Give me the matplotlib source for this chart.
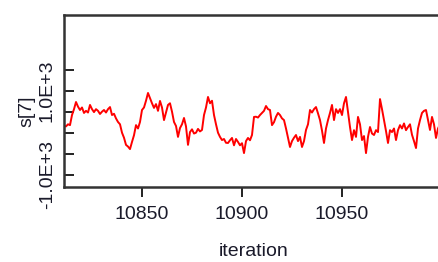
import matplotlib
matplotlib.use("Agg")
import matplotlib.pyplot as plt

iter_start = 10811
values = [
    160, 150, 200, 180, 420, 560, 730, 620, 540, 600,
    470, 520, 480, 660, 560, 490, 560, 520, 445, 500,
    540, 480, 560, 610, 420, 450, 340, 255, 200, 0,
    -120, -290, -330, -390, -220, -60, 180, 100, 255, 540,
    600, 760, 945, 820, 700, 590, 680, 520, 755, 600,
    300, 480, 660, 700, 500, 255, 160, -100, 110, 200,
    350, 150, -290, 15, 80, -20, 0, 90, 30, 65,
    420, 600, 850, 700, 760, 420, 200, 0, -100, -175,
    -150, -240, -245, -180, -125, -300, -150, -220, -300, -250,
    -485, -200, -125, -180, -55, 375, 380, 360, 420, 470,
    520, 635, 560, 540, 180, 250, 380, 470, 420, 340,
    300, 100, -120, -340, -200, -120, -55, -200, -100, -340,
    -200, 65, 200, 540, 480, 560, 610, 460, 300, 50,
    -245, 100, 300, 470, 660, 300, 560, 470, 560, 420,
    700, 850, 500, 135, -175, 60, -100, 375, 200, -175,
    -80, -485, -100, 135, -20, -55, 60, 15, 800, 560,
    300, 40, -245, 60, 15, 100, -175, 60, 180, 100,
    220, 60, 135, 200, -50, -200, -365, 100, 300, 470,
    520, 540, 300, 65, 375, 200, -125, 100, 200, 150,
]
iterations = list(range(iter_start, iter_start + len(values)))

x_ticks = [10850, 10900, 10950]
y_ticks = [-1000, -500, 0, 500, 1000, 1500]
y_tick_labels = ["-1.0E+3", "", "", "", "1.0E+3", ""]

W, H = 438, 262
fig = plt.figure(figsize=(W / 100, H / 100), dpi=100)
plt.rcParams['font.family'] = ['Liberation Sans', 'DejaVu Sans']

ax = fig.add_axes([64 / W, (H - 187) / H, 378 / W, 172 / H])
ax.plot(iterations, values, color='#ff0000', lw=1.4)
ax.set_xlim(10811, 11000)
ax.set_ylim(-1292, 2800)

ax.set_xticks(x_ticks)
ax.set_xticklabels([str(t) for t in x_ticks])
ax.set_yticks(y_ticks)
ax.set_yticklabels(y_tick_labels, rotation=90, va='center')

ax.tick_params(axis='x', direction='out', length=7, width=1.4, colors='#222222',
               labelsize=14, labelcolor='#1a1a2a', pad=7)
ax.tick_params(axis='y', direction='in', length=7, width=1.4, colors='#222222',
               labelsize=14, labelcolor='#1a1a2a', pad=6)
for s in ax.spines.values():
    s.set_color('#333333')
    s.set_linewidth(1.8)

fig.text(27 / W, 1 - 111 / H, "s[7]", rotation=90, ha='center', va='center',
         fontsize=14, color='#1a1a2a')
fig.text(254 / W, 1 - 251 / H, "iteration", ha='center', va='center',
         fontsize=14, color='#1a1a2a')

fig.savefig("out.png", dpi=100)
